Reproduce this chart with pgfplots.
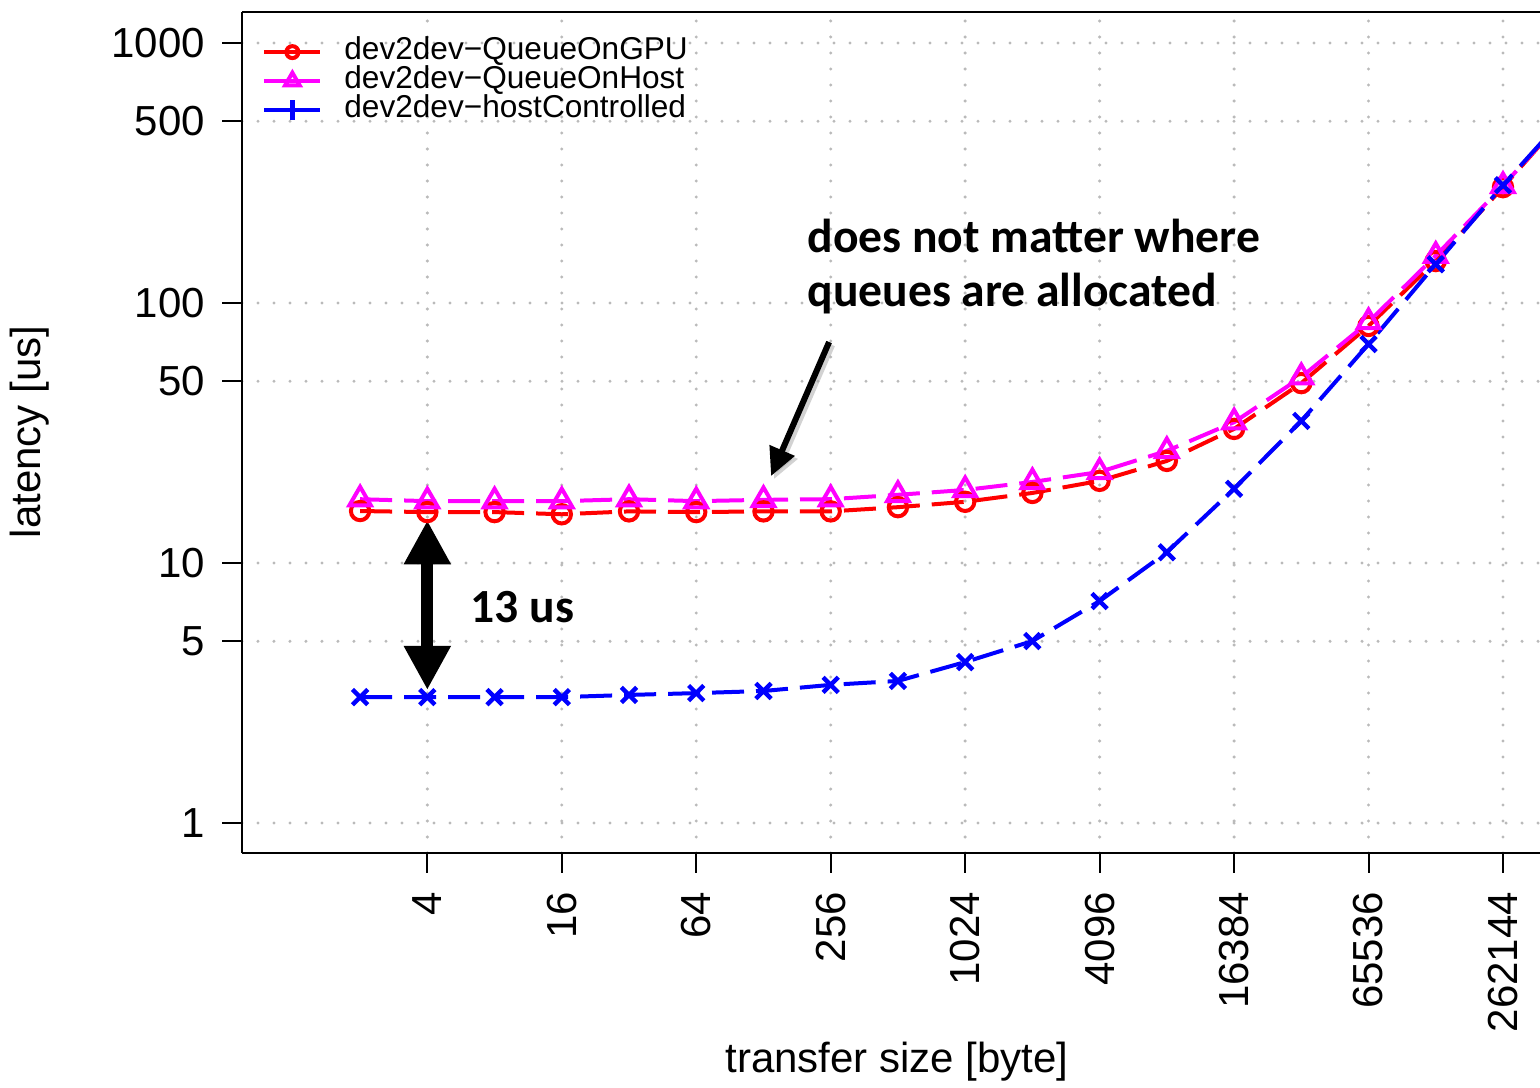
\documentclass[border=0pt]{standalone}
\usepackage{fontspec}
\setmainfont{Liberation Sans}
\newfontfamily\calibri{Carlito}
\usepackage{pgfplots}
\pgfplotsset{compat=1.18}
\usetikzlibrary{arrows.meta}
\definecolor{cred}{rgb}{1,0,0}
\definecolor{cmag}{rgb}{1,0,1}
\definecolor{cblue}{rgb}{0,0,1}

\pgfplotstableread{
x red mag blue
2 15.85 17.6 3.05
4 15.7 17.3 3.05
8 15.7 17.3 3.05
16 15.4 17.3 3.05
32 15.8 17.6 3.11
64 15.7 17.3 3.16
128 15.8 17.5 3.22
256 15.8 17.6 3.40
512 16.4 18.3 3.52
1024 17.2 19.1 4.16
2048 18.6 20.5 5.01
4096 20.7 22.4 7.14
8192 24.7 27.0 11.0
16384 32.8 34.8 19.3
32768 49.2 51.9 35.2
65536 81.6 84.5 69.5
131072 145 152 141
262144 279 282 284
524288 548 550 550
}\datatable

\begin{document}
\begin{tikzpicture}
\useasboundingbox (-121pt,-117pt) rectangle (649pt,426.5pt);
\begin{axis}[
  name=main,
  at={(0,0)}, anchor=south west,
  scale only axis,
  width=649pt, height=420.5pt,
  xmode=log, log basis x=2, ymode=log,
  xmin=0.5918, xmax=384100,
  ymin=0.767, ymax=1316,
  axis x line*=bottom, axis y line*=left,
  axis line style={line width=1pt},
  xtick={4,16,64,256,1024,4096,16384,65536,262144},
  xticklabels={4,16,64,256,1024,4096,16384,65536,262144},
  ytick={1,5,10,50,100,500,1000},
  yticklabels={1,5,10,50,100,500,1000},
  minor tick style={draw=none},
  tick align=outside,
  major tick length=10pt,
  tick style={line width=1pt, black},
  xticklabel shift=6pt,
  yticklabel shift=5pt,
  xticklabel style={rotate=90, anchor=east, font=\fontsize{21}{25}\selectfont},
  yticklabel style={font=\fontsize{21}{25}\selectfont},
  grid=major,
  major grid style={black!27, line width=1.7pt, dash pattern=on 0pt off 8pt, line cap=round},
  xlabel={transfer size [byte]},
  ylabel={latency [us]},
  label style={font=\fontsize{21}{25}\selectfont},
  xlabel style={at={(axis description cs:0.5046,-0.2485)}, anchor=center},
  ylabel style={at={(axis description cs:-0.1633,0.5006)}, anchor=center, rotate=0},
  legend style={at={(axis description cs:0.0154,0.970)}, anchor=north west, draw=none, fill=none,
    font=\fontsize{15.8}{17}\selectfont, row sep=0pt, inner sep=0pt, column sep=11pt,
    nodes={inner sep=0pt, text height=11pt, text depth=3.5pt}},
  legend cell align=left,
  legend image code/.code={\draw[mark repeat=2,mark phase=2,#1,solid] plot coordinates {(0pt,0pt)(14pt,0pt)(28pt,0pt)};},
  every axis plot/.append style={line width=2pt, dash pattern=on 16pt off 6pt},
]
\addplot[cred, line width=2pt, mark=o, mark size=4.6pt, mark options={solid, line width=2pt}, legend image post style={mark size=3pt}] table[x=x, y=red] {\datatable};
\addlegendentry{dev2dev−QueueOnGPU}
\addplot[cmag, line width=2pt, mark=triangle, mark size=6.2pt, mark options={solid, line width=2pt}, legend image post style={mark size=4.2pt}] table[x=x, y=mag] {\datatable};
\addlegendentry{dev2dev−QueueOnHost}
\addplot[cblue, line width=2pt, mark=x, mark size=5.4pt, mark options={solid, line width=2.2pt}, legend image post style={mark=+, mark size=5pt}] table[x=x, y=blue] {\datatable};
\addlegendentry{dev2dev−hostControlled}
\draw[line width=6pt, {Triangle[width=22pt,length=22pt]}-{Triangle[width=22pt,length=22pt]}, solid] (axis cs:4,14.6) -- (axis cs:4,3.25);
\draw[line width=3pt, black!35, opacity=0.5, -{Triangle[width=13pt,length=14pt]}, solid] ([xshift=1.5pt,yshift=-1.5pt]axis cs:251.8,70.8) -- ([xshift=1.5pt,yshift=-1.5pt]axis cs:138.4,21.6);
\draw[line width=3pt, -{Triangle[width=13pt,length=14pt]}, solid] (axis cs:251.8,70.8) -- (axis cs:138.4,21.6);
\node[anchor=base west, inner sep=0pt, font=\calibri\bfseries\fontsize{23.8}{27}\selectfont] at (axis cs:200.6,157) {does not matter where};
\node[anchor=base west, inner sep=0pt, font=\calibri\bfseries\fontsize{23.8}{27}\selectfont] at (axis cs:200.6,97.3) {queues are allocated};
\node[anchor=base west, inner sep=0pt, font=\calibri\bfseries\fontsize{23.8}{27}\selectfont] at (axis cs:6.24,5.93) {13 us};
\end{axis}
\draw[black, line width=1pt] (main.north west) -- (main.north east);
\end{tikzpicture}
\end{document}
